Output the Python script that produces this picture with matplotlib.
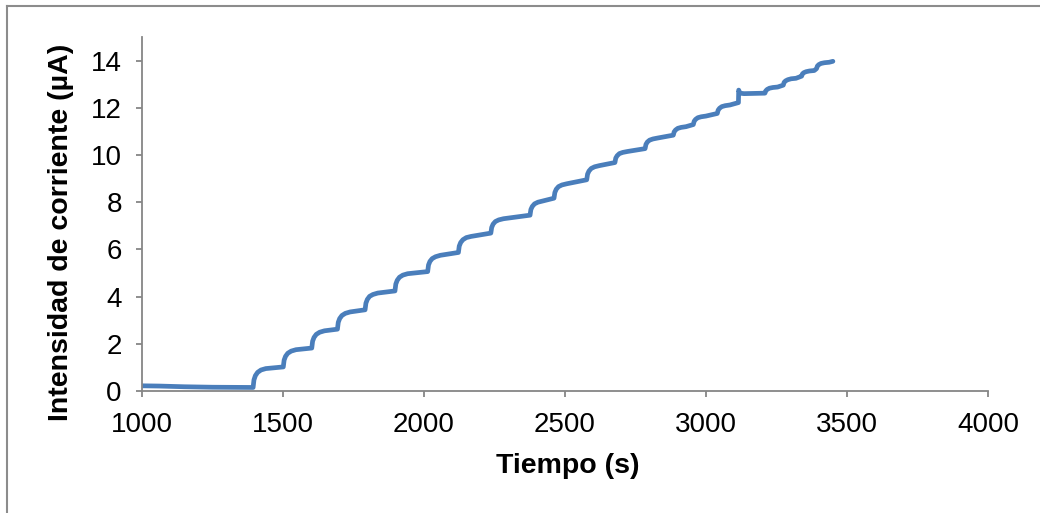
import matplotlib
matplotlib.use("Agg")
import matplotlib.pyplot as plt
from matplotlib.lines import Line2D

time_s = [
    1000, 1060, 1150, 1250, 1394,
    1397, 1402, 1410, 1422, 1439, 1501,
    1504, 1509, 1517, 1529, 1546, 1602,
    1605, 1610, 1618, 1630, 1647, 1693,
    1696, 1701, 1709, 1721, 1738, 1791,
    1794, 1799, 1807, 1819, 1836, 1897,
    1900, 1905, 1913, 1925, 1942, 2013,
    2016, 2021, 2029, 2041, 2058, 2122,
    2125, 2130, 2138, 2150, 2167, 2237,
    2240, 2245, 2253, 2265, 2282, 2376,
    2379, 2384, 2392, 2404, 2421, 2461,
    2464, 2469, 2477, 2489, 2506, 2577,
    2580, 2585, 2593, 2605, 2622, 2677,
    2680, 2685, 2693, 2705, 2722, 2784,
    2787, 2792, 2800, 2812, 2829, 2884,
    2887, 2892, 2900, 2912, 2929, 2955,
    2958, 2963, 2971, 2983, 3000, 3040,
    3043, 3048, 3056, 3068, 3085, 3115,
    3116, 3120, 3135, 3209,
    3212, 3217, 3225, 3237, 3254, 3274,
    3277, 3282, 3290, 3302, 3319, 3339,
    3342, 3347, 3355, 3367, 3384, 3392,
    3395, 3400, 3408, 3420, 3437, 3450,
]
current_uA = [
    0.22, 0.21, 0.18, 0.16, 0.15,
    0.47, 0.65, 0.79, 0.89, 0.95, 1.02,
    1.31, 1.47, 1.60, 1.69, 1.75, 1.82,
    2.11, 2.27, 2.40, 2.49, 2.55, 2.62,
    2.91, 3.07, 3.20, 3.29, 3.35, 3.44,
    3.72, 3.88, 4.01, 4.09, 4.15, 4.24,
    4.53, 4.69, 4.82, 4.91, 4.97, 5.06,
    5.34, 5.49, 5.61, 5.69, 5.75, 5.87,
    6.14, 6.29, 6.41, 6.50, 6.55, 6.69,
    6.93, 7.07, 7.18, 7.25, 7.30, 7.45,
    7.69, 7.82, 7.93, 8.00, 8.05, 8.17,
    8.41, 8.55, 8.66, 8.73, 8.78, 8.95,
    9.19, 9.32, 9.43, 9.50, 9.55, 9.68,
    9.87, 9.97, 10.06, 10.11, 10.15, 10.27,
    10.45, 10.55, 10.63, 10.68, 10.72, 10.84,
    10.98, 11.06, 11.13, 11.17, 11.20, 11.29,
    11.43, 11.51, 11.58, 11.62, 11.65, 11.76,
    11.90, 11.98, 12.05, 12.09, 12.12, 12.22,
    12.75, 12.62, 12.60, 12.62,
    12.72, 12.78, 12.83, 12.86, 12.88, 12.96,
    13.08, 13.14, 13.19, 13.23, 13.25, 13.34,
    13.44, 13.49, 13.53, 13.56, 13.58, 13.66,
    13.77, 13.83, 13.88, 13.91, 13.93, 13.97,
]
x_ticks = [1000, 1500, 2000, 2500, 3000, 3500, 4000]
y_ticks = [0, 2, 4, 6, 8, 10, 12, 14]
x_label = "Tiempo (s)"
y_label = "Intensidad de corriente (µA)"

plt.rcParams['font.family'] = ['Liberation Sans', 'DejaVu Sans']

W, H = 1040, 513
fig = plt.figure(figsize=(W / 100, H / 100), dpi=100)
ax = fig.add_axes([142 / W, 1 - 391 / H, (988 - 142) / W, (391 - 37) / H])

ax.plot(time_s, current_uA, color='#4A7EBB', lw=3.4, solid_joinstyle='round',
        solid_capstyle='round')

ax.set_xlim(1000, 4000)
ax.set_ylim(0, 15)
ax.set_xticks(x_ticks)
ax.set_yticks(y_ticks)
ax.set_xticklabels([str(v) for v in x_ticks])
ax.set_yticklabels([str(v) for v in y_ticks])

grey = '#868686'
for s in ['top', 'right']:
    ax.spines[s].set_visible(False)
for s in ['left', 'bottom']:
    ax.spines[s].set_color(grey)
    ax.spines[s].set_linewidth(1.3)
ax.tick_params(axis='both', direction='out', length=4.5, width=1.3, color=grey,
               labelsize=20, labelcolor='black')
ax.tick_params(axis='x', pad=10.5)
ax.tick_params(axis='y', pad=10)

fig.text(568 / W, 1 - 466 / H, x_label, ha='center', va='center',
         fontsize=20.5, fontweight='bold')
fig.text(61 / W, 1 - 232 / H, y_label, ha='center', va='center',
         rotation=90, fontsize=20.5, fontweight='bold')

# outer chart border (left and top edges visible)
fig.add_artist(Line2D([7 / W, 7 / W], [0, 1 - 6 / H], transform=fig.transFigure,
                      color='#8c8c8c', lw=1.5))
fig.add_artist(Line2D([7 / W, 1], [1 - 6 / H, 1 - 6 / H], transform=fig.transFigure,
                      color='#8c8c8c', lw=1.5))

fig.savefig('out.png', dpi=100)
